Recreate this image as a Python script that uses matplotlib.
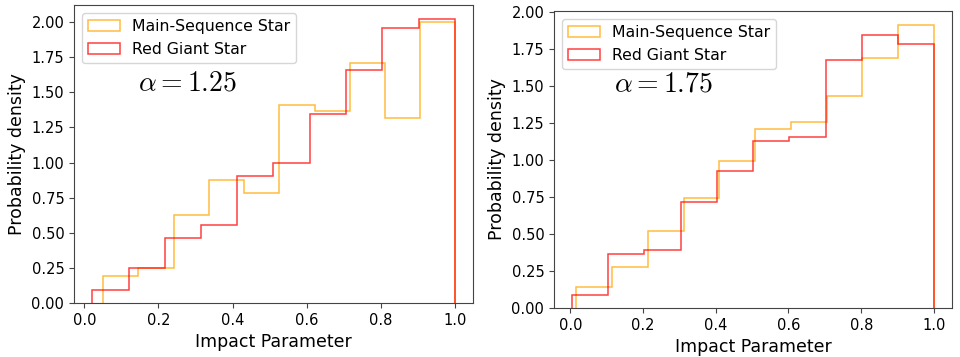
import numpy as np
import matplotlib
matplotlib.use("Agg")
import matplotlib.pyplot as plt

plt.rcParams['mathtext.fontset'] = 'cm'

# bin edges and densities, alpha = 1.25
ms_edges_125 = [0.050, 0.145, 0.241, 0.336, 0.430, 0.525, 0.622, 0.716, 0.812, 0.905, 1.000]
ms_dens_125 = [0.191, 0.246, 0.628, 0.878, 0.780, 1.413, 1.368, 1.706, 1.317, 2.000]
rg_edges_125 = [0.021, 0.120, 0.217, 0.314, 0.413, 0.510, 0.608, 0.707, 0.804, 0.902, 1.000]
rg_dens_125 = [0.095, 0.246, 0.463, 0.558, 0.902, 1.000, 1.344, 1.661, 1.955, 2.021]

# alpha = 1.75
ms_edges_175 = [0.017, 0.115, 0.214, 0.312, 0.410, 0.508, 0.607, 0.705, 0.803, 0.902, 1.000]
ms_dens_175 = [0.145, 0.276, 0.520, 0.741, 0.994, 1.211, 1.261, 1.431, 1.690, 1.914]
rg_edges_175 = [0.005, 0.105, 0.204, 0.304, 0.403, 0.503, 0.602, 0.702, 0.801, 0.901, 1.000]
rg_dens_175 = [0.090, 0.362, 0.395, 0.716, 0.929, 1.130, 1.155, 1.675, 1.844, 1.785]

ALPHAS = ["$\\alpha = 1.25$", "$\\alpha = 1.75$"]


def draw_panel(ax, ms_edges, ms_dens, rg_edges, rg_dens, alpha_text, text_pos):
    ax.hist(ms_edges[:-1], bins=ms_edges, weights=ms_dens, histtype='step',
            color='orange', alpha=0.75, linewidth=1.1, label='Main-Sequence Star')
    ax.hist(rg_edges[:-1], bins=rg_edges, weights=rg_dens, histtype='step',
            color='red', alpha=0.75, linewidth=1.1, label='Red Giant Star')
    ax.text(text_pos[0], text_pos[1], alpha_text, fontsize=20, va='center', ha='left')
    ax.set_xlabel('Impact Parameter', fontsize=12.5)
    ax.set_ylabel('Probability density', fontsize=12.5)
    ax.set_xticks([0.0, 0.2, 0.4, 0.6, 0.8, 1.0])
    ax.set_yticks(np.arange(0, 2.01, 0.25))
    ax.tick_params(labelsize=10.5, color='#444444')
    for sp in ax.spines.values():
        sp.set_color('#444444')
    ax.legend(loc='upper left', fontsize=11.3)


fig = plt.figure(figsize=(9.6, 3.57), dpi=100)
ax1 = fig.add_axes([0.0771, 0.1513, 0.4156, 0.8347])
ax2 = fig.add_axes([0.5771, 0.1373, 0.4146, 0.832])

draw_panel(ax1, ms_edges_125, ms_dens_125, rg_edges_125, rg_dens_125, ALPHAS[0], (0.146, 1.57))
draw_panel(ax2, ms_edges_175, ms_dens_175, rg_edges_175, rg_dens_175, ALPHAS[1], (0.121, 1.52))

fig.savefig('out.png', dpi=100)
